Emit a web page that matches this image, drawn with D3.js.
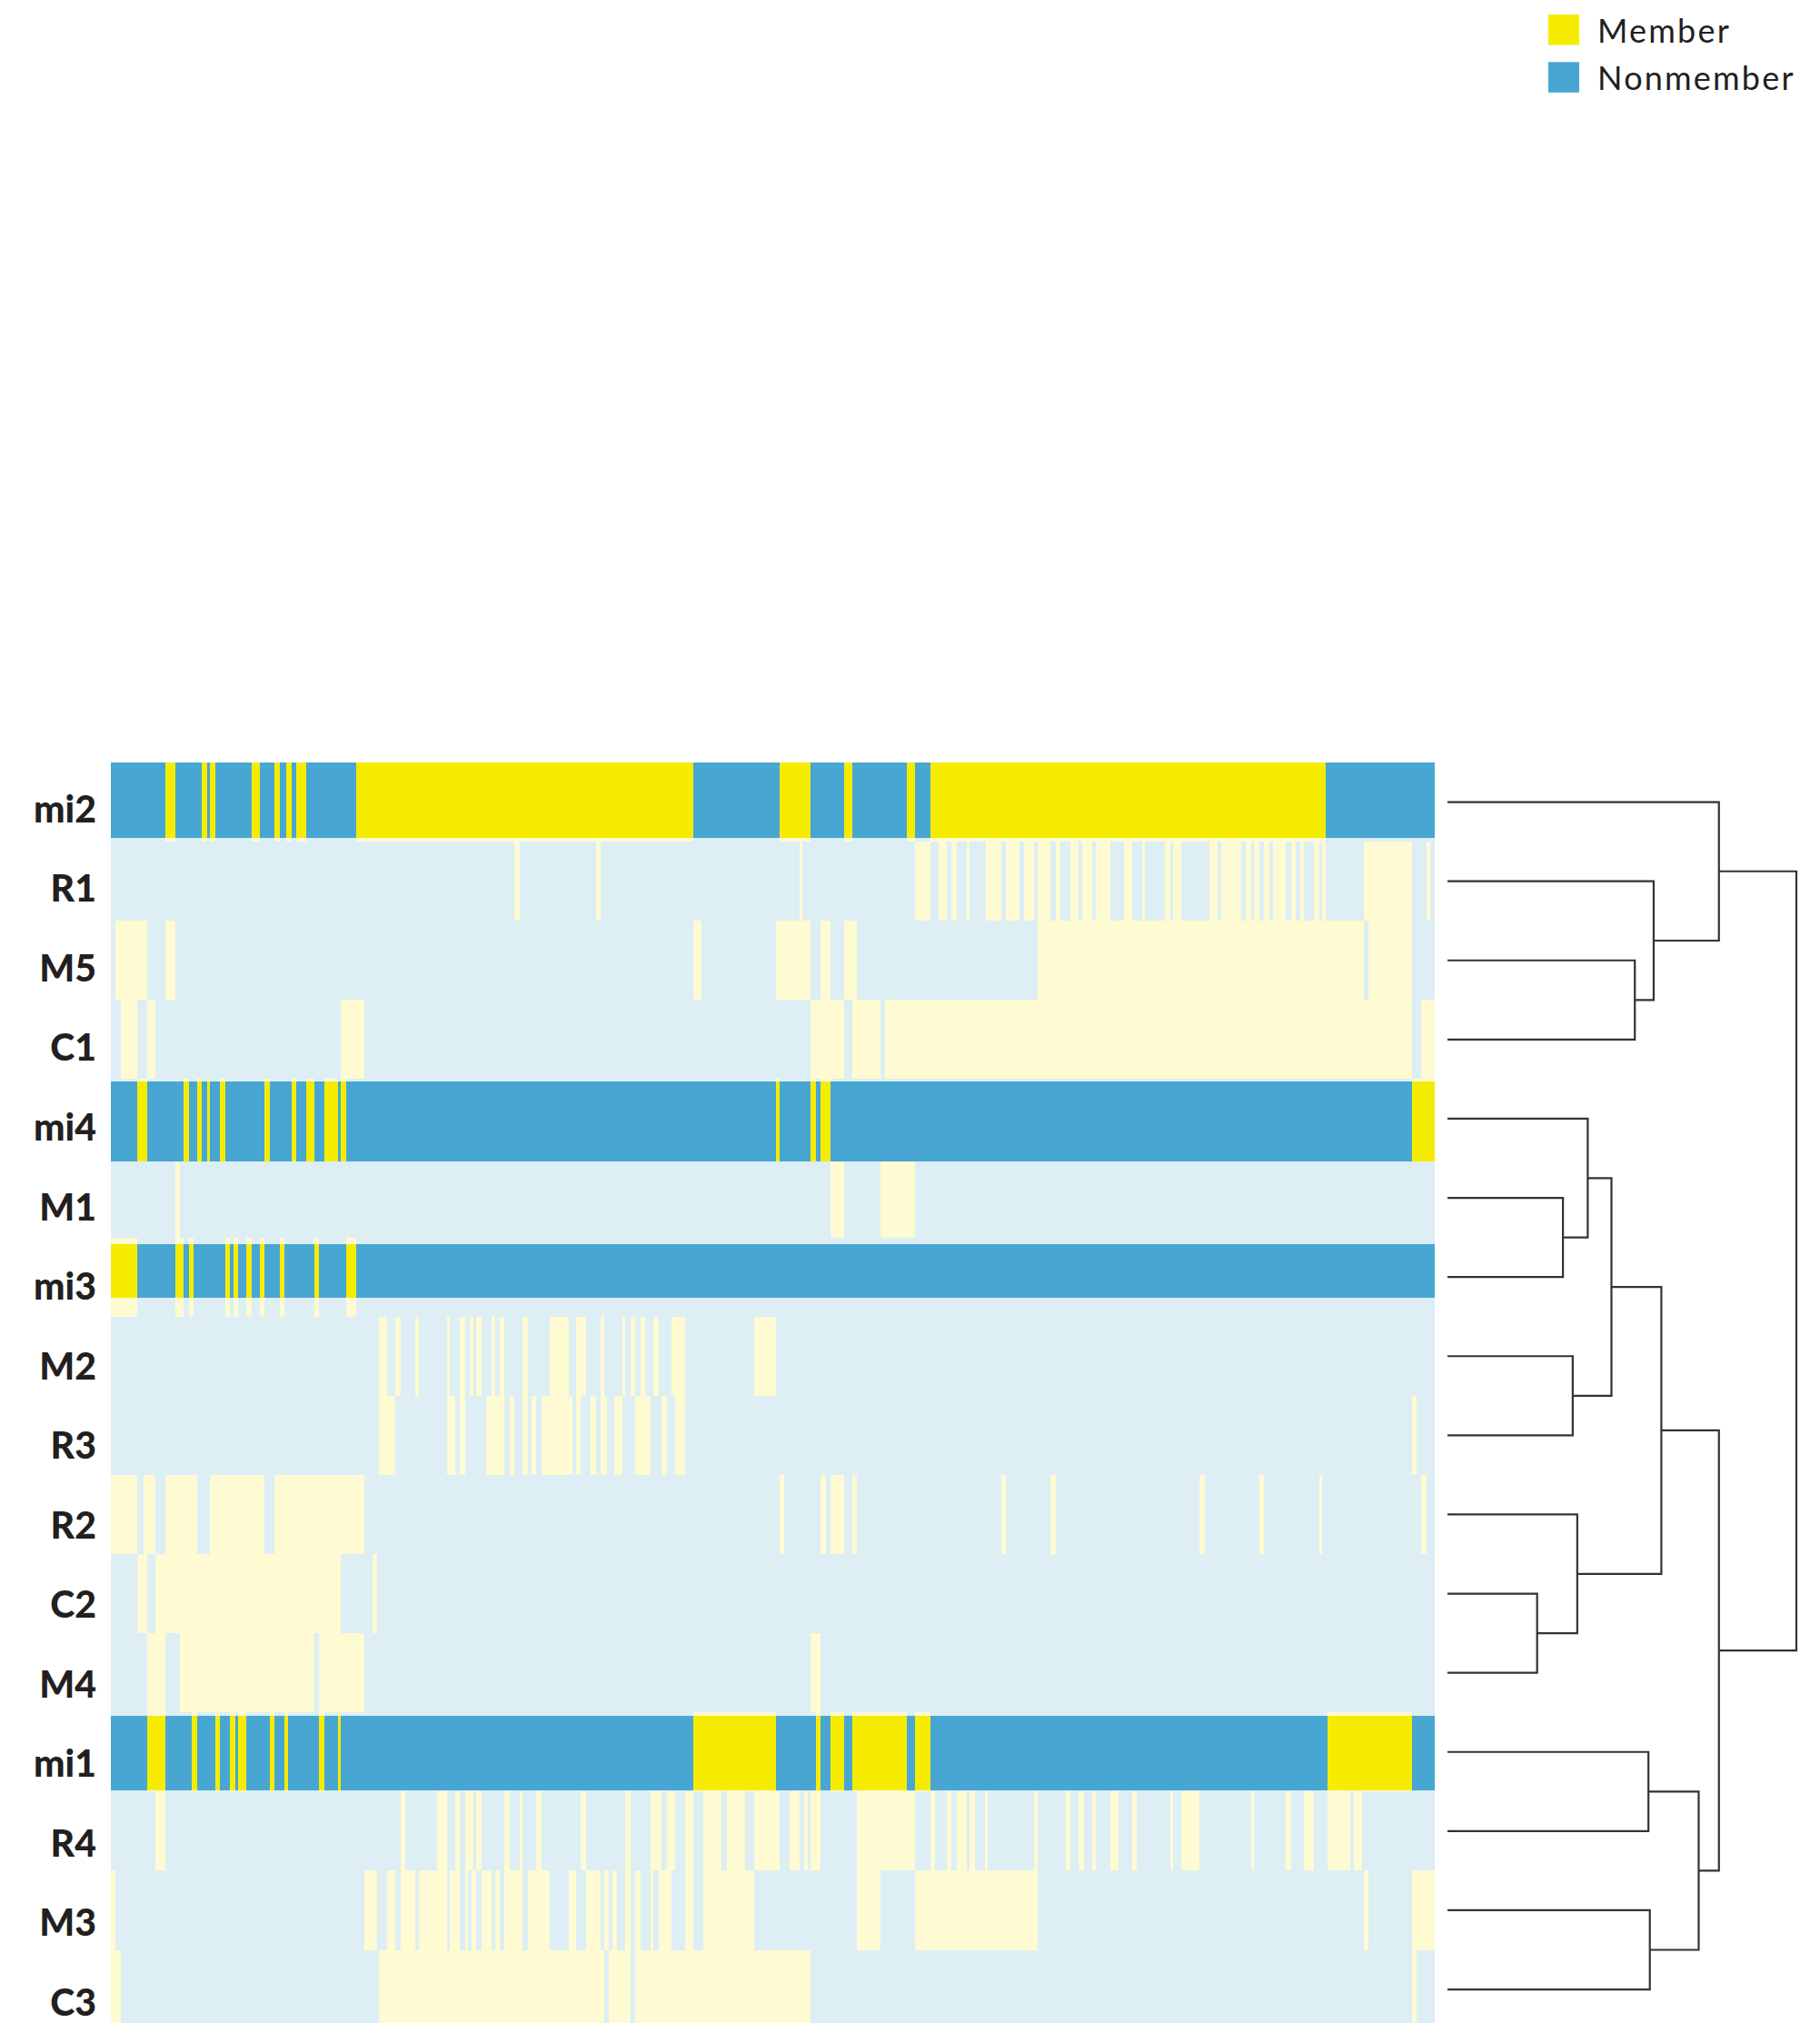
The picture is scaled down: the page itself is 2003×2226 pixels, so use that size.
<!DOCTYPE html>
<html>
<head>
<meta charset="utf-8">
<script src="https://cdn.jsdelivr.net/npm/d3@7"></script>
<style>
  html, body { margin: 0; padding: 0; background: #ffffff; }
  svg { display: block; }
</style>
</head>
<body>
<svg id="chart" width="2003" height="2226"></svg>
<script>
// ---- data -------------------------------------------------------------
// Row order (as clustered) and the number of samples along the x axis.
const rowNames = ["mi2", "R1", "M5", "C1", "mi4", "M1", "mi3", "M2", "R3", "R2", "C2", "M4", "mi1", "R4", "M3", "C3"];
const strongRows = ["mi2", "mi4", "mi3", "mi1"];
const sampleCount = 800;

// Member runs for each row: [first sample, end sample) in sample order.
const memberMi2 = [[33,39],[55,58],[60,63],[85,90],[99,102],[106,109],[112,118],[148,352],[404,423],[443,448],[481,486],[495,734]];
const memberR1 = [[244,247],[293,296],[416,418],[486,495],[500,505],[508,511],[517,519],[529,538],[541,549],[552,558],[560,568],[571,574],[580,585],[587,593],[595,604],[612,617],[623,625],[637,640],[642,647],[664,669],[671,683],[686,689],[691,694],[697,700],[702,710],[713,716],[719,721],[727,730],[732,734],[757,786],[795,797]];
const memberM5 = [[3,22],[33,39],[352,357],[402,423],[429,435],[443,451],[560,757],[760,786]];
const memberC1 = [[6,16],[22,27],[139,153],[423,443],[448,465],[468,786],[792,800]];
const memberMi4 = [[16,22],[44,47],[52,55],[58,60],[66,69],[93,96],[109,112],[118,123],[129,137],[139,142],[402,404],[423,426],[429,435],[786,800]];
const memberM1 = [[39,42],[435,443],[465,486]];
const memberMi3 = [[0,16],[39,44],[47,50],[69,72],[74,77],[82,85],[90,93],[102,105],[123,126],[142,148]];
const memberM2 = [[162,167],[172,175],[184,186],[203,205],[211,214],[217,219],[221,224],[230,232],[235,238],[249,252],[265,277],[281,287],[296,298],[309,311],[314,317],[320,323],[328,331],[339,347],[389,402]];
const memberR3 = [[162,172],[203,208],[211,214],[227,238],[241,244],[249,252],[254,257],[260,279],[281,284],[290,293],[296,300],[304,309],[317,326],[333,336],[341,347],[786,789]];
const memberR2 = [[0,16],[20,27],[33,52],[60,93],[99,153],[404,407],[429,432],[435,443],[448,451],[538,541],[568,571],[658,661],[694,697],[730,732],[792,795]];
const memberC2 = [[16,22],[27,139],[158,161]];
const memberM4 = [[22,33],[42,123],[126,153],[423,429]];
const memberMi1 = [[22,33],[49,52],[63,66],[72,75],[77,82],[96,99],[105,107],[126,129],[137,139],[352,402],[426,429],[435,443],[448,481],[486,495],[735,786]];
const memberR4 = [[27,33],[175,178],[197,203],[208,211],[214,219],[221,224],[238,241],[247,249],[257,260],[284,287],[311,314],[326,333],[336,341],[347,352],[358,369],[372,383],[389,404],[410,416],[419,421],[423,429],[451,486],[495,498],[505,508],[511,517],[519,522],[528,530],[558,560],[577,580],[585,588],[593,595],[604,609],[617,620],[640,642],[647,658],[689,691],[710,713],[721,727],[735,749],[751,756]];
const memberM3 = [[0,3],[153,161],[167,172],[175,184],[186,203],[205,211],[214,216],[218,221],[224,230],[232,235],[238,249],[252,265],[277,281],[287,296],[298,301],[303,306],[311,314],[317,320],[326,328],[331,339],[347,352],[358,389],[451,465],[486,560],[757,760],[786,800]];
const memberC3 = [[0,6],[162,298],[301,314],[317,423],[786,789]];

const memberRuns = {
  mi2: memberMi2, R1: memberR1, M5: memberM5, C1: memberC1,
  mi4: memberMi4, M1: memberM1, mi3: memberMi3, M2: memberM2,
  R3: memberR3, R2: memberR2, C2: memberC2, M4: memberM4,
  mi1: memberMi1, R4: memberR4, M3: memberM3, C3: memberC3
};

// Hierarchical clustering of the rows: [left, right, merge height].
const merges = [
  ["M5", "C1", 0.537],   // n0
  ["R1", "n0", 0.591],   // n1
  ["mi2", "n1", 0.778],  // n2
  ["M1", "mi3", 0.331],  // n3
  ["mi4", "n3", 0.402],  // n4
  ["M2", "R3", 0.359],   // n5
  ["n4", "n5", 0.470],   // n6
  ["C2", "M4", 0.257],   // n7
  ["R2", "n7", 0.372],   // n8
  ["n6", "n8", 0.613],   // n9
  ["mi1", "R4", 0.576],  // n10
  ["M3", "C3", 0.580],   // n11
  ["n10", "n11", 0.720], // n12
  ["n9", "n12", 0.778],  // n13
  ["n2", "n13", 1.000]   // n14
];

const legendItems = ["Member", "Nonmember"];

// ---- layout & style ---------------------------------------------------
const colors = {
  memberStrong: "#f5ec00",
  nonmemberStrong: "#48a6d2",
  memberPale: "#fefad1",
  nonmemberPale: "#ddeef5"
};
const heat = { left: 122, right: 1579, top: 839, rowStep: 87.1 };
// vertical trim of the saturated bar inside its row: [top, bottom]
const strongInset = { mi2: [0, 4], mi4: [2.6, -3.5], mi3: [7.2, 21], mi1: [3.8, 1.3] };
const dendro = { leafX: 1593, rootX: 1977 };

const svg = d3.select("#chart");

const x = d3.scaleLinear().domain([0, sampleCount]).range([heat.left, heat.right]);
const y = d3.scaleBand().domain(rowNames)
  .range([heat.top, heat.top + heat.rowStep * rowNames.length]).padding(0);
// row labels sit on a slightly wider pitch than the cells
const yLabel = d3.scaleBand().domain(rowNames)
  .range([heat.top, heat.top + 87.55 * rowNames.length]).padding(0);

// ---- heatmap ----------------------------------------------------------
const heatG = svg.append("g").attr("shape-rendering", "crispEdges");

// pale layer for every row
const paleRows = heatG.selectAll("g.pale").data(rowNames).join("g").attr("class", "pale");
paleRows.append("rect")
  .attr("x", x(0)).attr("width", x(sampleCount) - x(0))
  .attr("y", d => y(d)).attr("height", y.bandwidth())
  .attr("fill", colors.nonmemberPale);
paleRows.selectAll("rect.m")
  .data(d => memberRuns[d].map(r => ({ row: d, s: r[0], e: r[1] })))
  .join("rect").attr("class", "m")
  .attr("x", d => x(d.s)).attr("width", d => x(d.e) - x(d.s))
  .attr("y", d => y(d.row)).attr("height", y.bandwidth())
  .attr("fill", colors.memberPale);

// saturated layer for the mi rows
const strongG = heatG.selectAll("g.strong").data(strongRows).join("g").attr("class", "strong");
const sTop = d => y(d) + strongInset[d][0];
const sH = d => y.bandwidth() - strongInset[d][0] - strongInset[d][1];
strongG.append("rect")
  .attr("x", x(0)).attr("width", x(sampleCount) - x(0))
  .attr("y", sTop).attr("height", sH)
  .attr("fill", colors.nonmemberStrong);
strongG.selectAll("rect.m")
  .data(d => memberRuns[d].map(r => ({ row: d, s: r[0], e: r[1] })))
  .join("rect").attr("class", "m")
  .attr("x", d => x(d.s)).attr("width", d => x(d.e) - x(d.s))
  .attr("y", d => sTop(d.row)).attr("height", d => sH(d.row))
  .attr("fill", colors.memberStrong);

// ---- row labels -------------------------------------------------------
svg.append("g").selectAll("text").data(rowNames).join("text")
  .attr("x", 106)
  .attr("y", d => yLabel(d) + yLabel.bandwidth() / 2 + 22)
  .attr("text-anchor", "end")
  .attr("font-family", "Lato, 'Open Sans', sans-serif")
  .attr("font-weight", 900)
  .attr("font-size", 41)
  .attr("fill", "#231f20")
  .text(d => d);

// ---- dendrogram -------------------------------------------------------
const nodes = {};
rowNames.forEach(n => { nodes[n] = { name: n, height: 0, children: null }; });
merges.forEach((m, i) => {
  nodes["n" + i] = { name: "n" + i, height: m[2], children: [nodes[m[0]], nodes[m[1]]] };
});
const root = d3.hierarchy(nodes["n" + (merges.length - 1)], d => d.children);
const hx = d3.scaleLinear().domain([0, 1]).range([dendro.leafX, dendro.rootX]);
root.eachAfter(n => {
  n.px = hx(n.data.height);
  n.py = n.children ? d3.mean(n.children, c => c.py) : y(n.data.name) + y.bandwidth() / 2;
});
const links = [];
root.each(n => {
  if (!n.children) return;
  const [a, b] = n.children;
  links.push(`M${a.px},${a.py}H${n.px}V${b.py}H${b.px}`);
});
svg.append("g").selectAll("path").data(links).join("path")
  .attr("d", d => d)
  .attr("fill", "none")
  .attr("stroke", "#333333")
  .attr("stroke-width", 2.2);

// ---- legend -----------------------------------------------------------
const legend = svg.append("g").attr("transform", "translate(1704,16)");
const legendColor = d3.scaleOrdinal().domain(legendItems).range([colors.memberStrong, colors.nonmemberStrong]);
const li = legend.selectAll("g").data(legendItems).join("g")
  .attr("transform", (d, i) => `translate(0,${i * 52.3})`);
li.append("rect").attr("width", 34).attr("height", 33.5).attr("fill", d => legendColor(d));
li.append("text")
  .attr("x", 54).attr("y", 31)
  .attr("font-family", "Lato, 'Open Sans', sans-serif")
  .attr("font-weight", 400)
  .attr("font-size", 36)
  .attr("letter-spacing", 2.2)
  .attr("fill", "#231f20")
  .text(d => d);
</script>
</body>
</html>
